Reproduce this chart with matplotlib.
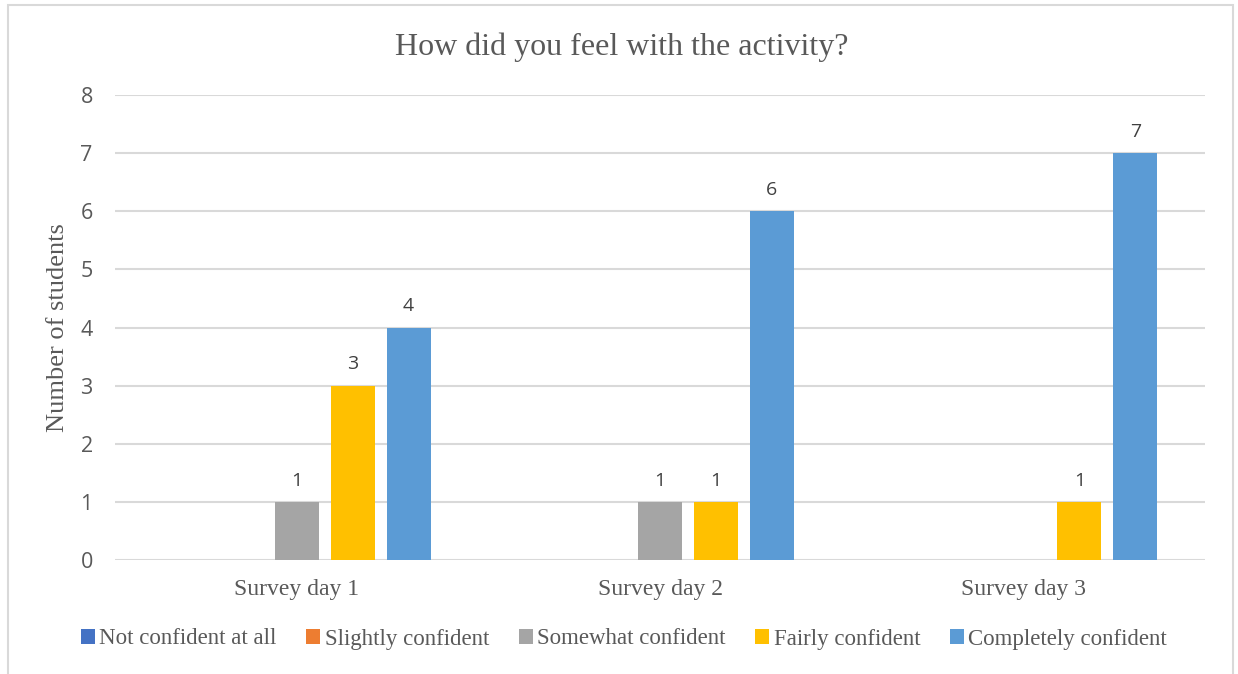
import matplotlib
matplotlib.use("Agg")
import matplotlib.pyplot as plt
from matplotlib.patches import Rectangle
import numpy as np

categories = ["Survey day 1", "Survey day 2", "Survey day 3"]
series_names = ["Not confident at all", "Slightly confident", "Somewhat confident",
                "Fairly confident", "Completely confident"]
not_confident = [0, 0, 0]
slightly_confident = [0, 0, 0]
somewhat_confident = [1, 1, 0]
fairly_confident = [3, 1, 1]
completely_confident = [4, 6, 7]
series_values = [not_confident, slightly_confident, somewhat_confident,
                 fairly_confident, completely_confident]
colors = ["#4472C4", "#ED7D31", "#A5A5A5", "#FFC000", "#5B9BD5"]
y_ticks = [0, 1, 2, 3, 4, 5, 6, 7, 8]

W, H = 1238, 674
fig = plt.figure(figsize=(W / 100, H / 100), dpi=100)
ax = fig.add_axes([115 / W, 1 - 560 / H, (1205 - 115) / W, (560 - 95) / H])

# chart border
fig.patches.append(Rectangle((8 / W, -0.05), (1233 - 8) / W, (1 - 5 / H) + 0.05,
                             transform=fig.transFigure, fill=False,
                             edgecolor="#D9D9D9", linewidth=1.5))

serif = "Liberation Serif"
sans = "Open Sans"
text_col = "#595959"

x = np.arange(len(categories))
step = 0.154
width = 0.121
for i, (name, vals, col) in enumerate(zip(series_names, series_values, colors)):
    pos = x + (i - 2) * step
    bars = ax.bar(pos, vals, width=width, color=col, label=name, zorder=3)
    for b, v in zip(bars, vals):
        if v:
            ax.text(b.get_x() + b.get_width() / 2, v + 0.28, str(v),
                    ha="center", va="baseline", fontsize=14, family=sans,
                    color="#404040")

ax.set_xlim(-0.5, 2.5)
ax.set_ylim(0, 8)
ax.set_yticks(y_ticks)
ax.set_yticklabels([str(t) for t in y_ticks], family=sans, fontsize=15.5, color=text_col)
ax.set_xticks(x)
ax.set_xticklabels(categories, family=serif, fontsize=17, color=text_col)
ax.tick_params(axis="both", length=0)
ax.tick_params(axis="y", pad=16)
ax.tick_params(axis="x", pad=14)
ax.grid(axis="y", color="#D9D9D9", linewidth=1.5, zorder=0)
for s in ax.spines.values():
    s.set_visible(False)

ax.set_ylabel("Number of students", family=serif, fontsize=19, color=text_col,
              va="center")
ax.yaxis.set_label_coords((58 - 115) / (1205 - 115), 0.5)
fig.text(622 / W, 1 - 47 / H, "How did you feel with the activity?", family=serif,
         fontsize=23, color=text_col, ha="center", va="center")

leg = fig.legend(loc="center", bbox_to_anchor=(624 / W, 1 - 639 / H), ncol=5,
                 frameon=False, prop={"family": serif, "size": 16.5},
                 handlelength=0.6, handleheight=0.6, handletextpad=0.2,
                 columnspacing=1.3, labelcolor=text_col)

fig.savefig("out.png", dpi=100, facecolor="white")
